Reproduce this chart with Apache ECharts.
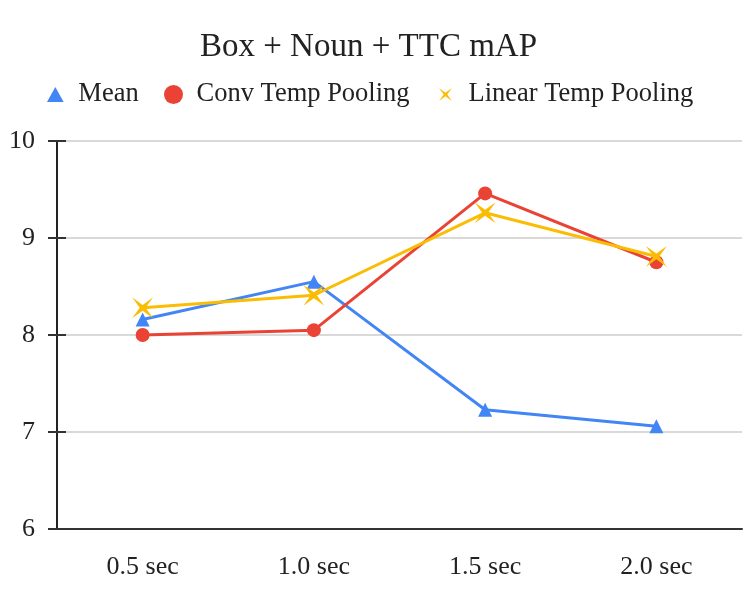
<!DOCTYPE html>
<html>
<head>
<meta charset="utf-8">
<script src="https://cdn.jsdelivr.net/npm/echarts@6/dist/echarts.min.js"></script>
<style>html,body{margin:0;padding:0;background:#fff}#c{width:750px;height:608px}</style>
</head>
<body>
<div id="c"></div>
<script>
var categories = ['0.5 sec', '1.0 sec', '1.5 sec', '2.0 sec'];
var meanValues = [8.16, 8.55, 7.23, 7.06];
var convValues = [8.00, 8.05, 9.46, 8.75];
var linearValues = [8.28, 8.41, 9.26, 8.81];
var yTicks = [6, 7, 8, 9, 10];

var FONT = '"Liberation Serif", "DejaVu Serif", serif';
var STAR = 'path://M0,0 L5,3.6 L10,0 L6.4,5 L10,10 L5,6.4 L0,10 L3.6,5 Z';
var TRI = 'path://M5,0 L10,9 L0,9 Z';
var BLUE = '#4285f4', RED = '#ea4335', YEL = '#fbbc04';

var chart = echarts.init(document.getElementById('c'), null, {renderer: 'canvas'});
var legendBase = {
  top: 76, orient: 'horizontal', itemGap: 0, symbolKeepAspect: true,
  textStyle: {fontFamily: FONT, fontSize: 26.5, color: '#222'}
};
chart.setOption({
  animation: false,
  backgroundColor: '#fff',
  title: {
    text: 'Box + Noun + TTC mAP', left: 195, top: 26,
    textStyle: {fontFamily: FONT, fontSize: 33, fontWeight: 'normal', color: '#222'}
  },
  legend: [
    Object.assign({}, legendBase, {left: 42, itemWidth: 36, itemHeight: 15, data: [{name: 'Mean', icon: TRI}]}),
    Object.assign({}, legendBase, {left: 159, itemWidth: 36, itemHeight: 19, data: [{name: 'Conv Temp Pooling', icon: 'circle'}]}),
    Object.assign({}, legendBase, {left: 434, itemWidth: 36, itemHeight: 13, data: [{name: 'Linear Temp Pooling', icon: STAR}]})
  ],
  grid: {left: 57, right: 8, top: 141, bottom: 79, containLabel: false},
  xAxis: [{
    type: 'category', data: categories, boundaryGap: true,
    axisLine: {lineStyle: {color: '#333', width: 2}},
    axisTick: {alignWithLabel: true, length: 9, lineStyle: {color: '#333', width: 2}},
    axisLabel: {fontFamily: FONT, fontSize: 26, color: '#222', margin: 25},
    splitLine: {show: false}
  }, {
    type: 'category', data: categories, boundaryGap: true, position: 'bottom',
    axisLine: {show: false},
    axisTick: {alignWithLabel: true, inside: true, length: 9, lineStyle: {color: '#333', width: 2}},
    axisLabel: {show: false}, splitLine: {show: false}
  }],
  yAxis: [{
    type: 'value', min: yTicks[0], max: yTicks[yTicks.length - 1], interval: 1,
    axisLine: {show: true, lineStyle: {color: '#222', width: 2}},
    axisTick: {show: true, length: 9, lineStyle: {color: '#333', width: 2}},
    axisLabel: {fontFamily: FONT, fontSize: 26, color: '#222', margin: 22},
    splitLine: {show: true, lineStyle: {color: '#d9d9d9', width: 2}}
  }, {
    type: 'value', min: yTicks[0], max: yTicks[yTicks.length - 1], interval: 1, position: 'left',
    axisLine: {show: false},
    axisTick: {show: true, inside: true, length: 9, lineStyle: {color: '#333', width: 2}},
    axisLabel: {show: false}, splitLine: {show: false}
  }],
  series: [{
    name: 'Mean', type: 'line', data: meanValues, symbol: 'triangle', symbolSize: 14,
    lineStyle: {color: BLUE, width: 3}, itemStyle: {color: BLUE}, z: 3
  }, {
    name: 'Conv Temp Pooling', type: 'line', data: convValues, symbol: 'circle', symbolSize: 14,
    lineStyle: {color: RED, width: 3}, itemStyle: {color: RED}, z: 4
  }, {
    name: 'Linear Temp Pooling', type: 'line', data: linearValues, symbol: STAR, symbolSize: 21,
    lineStyle: {color: YEL, width: 3}, itemStyle: {color: YEL}, z: 5
  }]
});
</script>
</body>
</html>
